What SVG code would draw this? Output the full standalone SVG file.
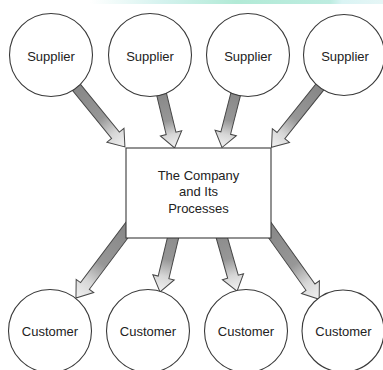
<svg xmlns="http://www.w3.org/2000/svg" width="383" height="370" viewBox="0 0 383 370">
  <defs>
    <!-- shaded arrow body: darker shaft fading to a pale head -->
    <linearGradient id="arrowShade" x1="0" y1="0" x2="1" y2="0">
      <stop offset="0" stop-color="#858585"/>
      <stop offset="0.55" stop-color="#979797"/>
      <stop offset="0.78" stop-color="#d6d6d6"/>
      <stop offset="1" stop-color="#f2f2f2"/>
    </linearGradient>
    <linearGradient id="topBand" x1="0" y1="0" x2="1" y2="0">
      <stop offset="0" stop-color="#ffffff"/>
      <stop offset="0.25" stop-color="#d4f2ee"/>
      <stop offset="0.5" stop-color="#b2ead6"/>
      <stop offset="0.82" stop-color="#bdece0"/>
      <stop offset="0.86" stop-color="#daf4f4"/>
      <stop offset="1" stop-color="#e6f6f6"/>
    </linearGradient>
    <style>
      .node { fill: #ffffff; stroke: #3a3a3a; stroke-width: 1.1; }
      .arrow { fill: url(#arrowShade); stroke: #474747; stroke-width: 1; stroke-linejoin: miter; }
      .label { font-family: "Liberation Sans", Arial, sans-serif; font-size: 13px; fill: #222222; text-anchor: middle; }
    </style>
  </defs>

  <rect width="383" height="370" fill="#ffffff"/>
  <rect x="90" y="0" width="293" height="4" fill="url(#topBand)"/>

  <!-- connectors: block arrows drawn along local x, then rotated into place -->
  <g id="connectors">
    <!-- suppliers to company -->
    <g transform="translate(73.2,83.3) rotate(50.9)">
      <path class="arrow" d="M0,-5 L67,-5 L67,-11 L82,0 L67,11 L67,5 L0,5 Z"/>
    </g>
    <g transform="translate(160,87.7) rotate(76.4)">
      <path class="arrow" d="M0,-5 L47,-5 L47,-11 L62,0 L47,11 L47,5 L0,5 Z"/>
    </g>
    <g transform="translate(237.4,87.5) rotate(104.4)">
      <path class="arrow" d="M0,-5 L47,-5 L47,-11 L62,0 L47,11 L47,5 L0,5 Z"/>
    </g>
    <g transform="translate(322.8,83.3) rotate(128.7)">
      <path class="arrow" d="M0,-5 L67,-5 L67,-11 L82,0 L67,11 L67,5 L0,5 Z"/>
    </g>
    <!-- company to customers -->
    <g transform="translate(133,222) rotate(126.9)">
      <path class="arrow" d="M0,-5.5 L80,-5.5 L80,-11 L95,0 L80,11 L80,5.5 L0,5.5 Z"/>
    </g>
    <g transform="translate(177.3,220) rotate(103.5)">
      <path class="arrow" d="M0,-5.5 L59,-5.5 L59,-11 L74,0 L59,11 L59,5.5 L0,5.5 Z"/>
    </g>
    <g transform="translate(216.8,220) rotate(74.1)">
      <path class="arrow" d="M0,-5.5 L59,-5.5 L59,-11 L74,0 L59,11 L59,5.5 L0,5.5 Z"/>
    </g>
    <g transform="translate(264,222) rotate(54.5)">
      <path class="arrow" d="M0,-5.5 L80,-5.5 L80,-11 L95,0 L80,11 L80,5.5 L0,5.5 Z"/>
    </g>
  </g>

  <!-- suppliers -->
  <g id="supplier1">
    <circle class="node" cx="51" cy="55" r="41.5"/>
    <text class="label" x="51" y="60.5">Supplier</text>
  </g>
  <g id="supplier2">
    <circle class="node" cx="150" cy="55" r="41.5"/>
    <text class="label" x="150" y="60.5">Supplier</text>
  </g>
  <g id="supplier3">
    <circle class="node" cx="248" cy="55" r="41.5"/>
    <text class="label" x="248" y="60.5">Supplier</text>
  </g>
  <g id="supplier4">
    <circle class="node" cx="344" cy="55" r="40.5"/>
    <text class="label" x="345" y="60.5">Supplier</text>
  </g>

  <!-- the company -->
  <g id="company">
    <rect class="node" x="126" y="148" width="145" height="90"/>
    <text class="label" x="198.5" y="179.5">The Company</text>
    <text class="label" x="198.5" y="196">and Its</text>
    <text class="label" x="198.5" y="212.5">Processes</text>
  </g>

  <!-- customers -->
  <g id="customer1">
    <circle class="node" cx="50" cy="331" r="41.5"/>
    <text class="label" x="50" y="335.5">Customer</text>
  </g>
  <g id="customer2">
    <circle class="node" cx="148" cy="331" r="41.5"/>
    <text class="label" x="148" y="335.5">Customer</text>
  </g>
  <g id="customer3">
    <circle class="node" cx="246" cy="331" r="41.5"/>
    <text class="label" x="246" y="335.5">Customer</text>
  </g>
  <g id="customer4">
    <circle class="node" cx="343" cy="331" r="41"/>
    <text class="label" x="343.5" y="335.5">Customer</text>
  </g>
</svg>
